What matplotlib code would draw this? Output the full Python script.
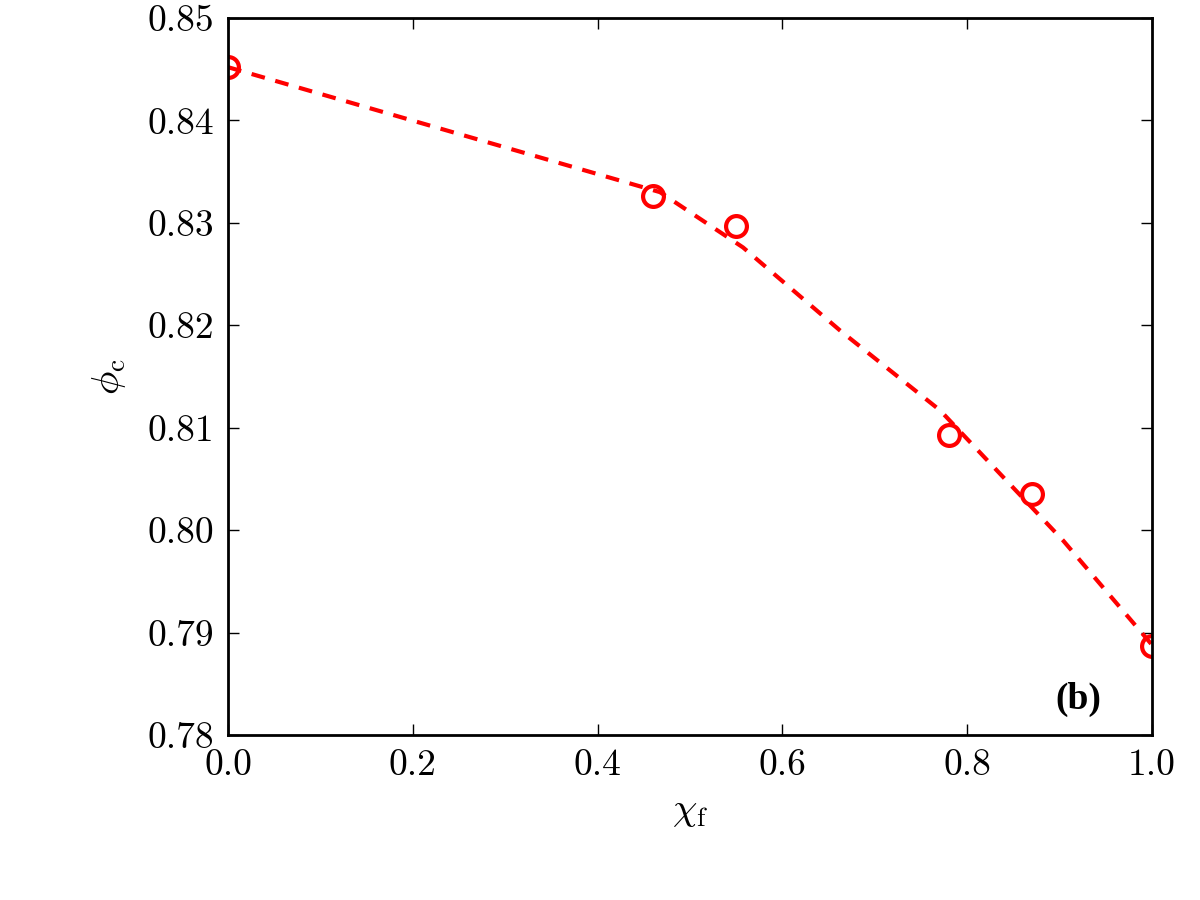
import numpy as np
import matplotlib
matplotlib.use("Agg")
import matplotlib.pyplot as plt

# measured points
chi_f = [0.0, 0.46, 0.55, 0.78, 0.87, 1.0]
phi_c = [0.8452, 0.8326, 0.8297, 0.8093, 0.8035, 0.7887]

# dashed guide line
chi_line = [0.0, 0.4675, 0.5574, 0.6623, 0.7706, 0.9037, 1.0]
phi_line = [0.8452, 0.8330, 0.8276, 0.8195, 0.8117, 0.7990, 0.7888]

plt.rcParams["font.family"] = "serif"
plt.rcParams["font.serif"] = ["cmr10"]
plt.rcParams["mathtext.fontset"] = "cm"
plt.rcParams["axes.formatter.use_mathtext"] = True

fig = plt.figure(figsize=(12, 9), dpi=100)
ax = fig.add_axes([0.19, 0.1833, 0.77, 0.7967])

ax.plot(chi_line, phi_line, color="red", lw=3.0, dashes=[3.3, 2.6])
ax.plot(chi_f, phi_c, "o", mfc="none", mec="red", mew=3.0, ms=15)

ax.set_xlim(0.0, 1.0)
ax.set_ylim(0.78, 0.85)
ax.set_xticks(np.arange(0.0, 1.01, 0.2))
ax.set_yticks(np.arange(0.78, 0.851, 0.01))
ax.set_xticklabels(["%.1f" % v for v in np.arange(0.0, 1.01, 0.2)])
ax.set_yticklabels(["%.2f" % v for v in np.arange(0.78, 0.851, 0.01)])
ax.tick_params(direction="in", top=True, right=True, length=8, width=1,
               labelsize=27, pad=10)
for s in ax.spines.values():
    s.set_linewidth(2)

ax.set_xlabel(r"$\chi_{\rm f}$", fontsize=28, labelpad=8)
ax.set_ylabel(r"$\phi_{\rm c}$", fontsize=28, labelpad=14)
ax.text(0.92, 0.025, "(b)", transform=ax.transAxes, family="Liberation Serif",
        fontweight="bold", fontsize=27, ha="center", va="bottom")

fig.savefig("out.png", dpi=100)
